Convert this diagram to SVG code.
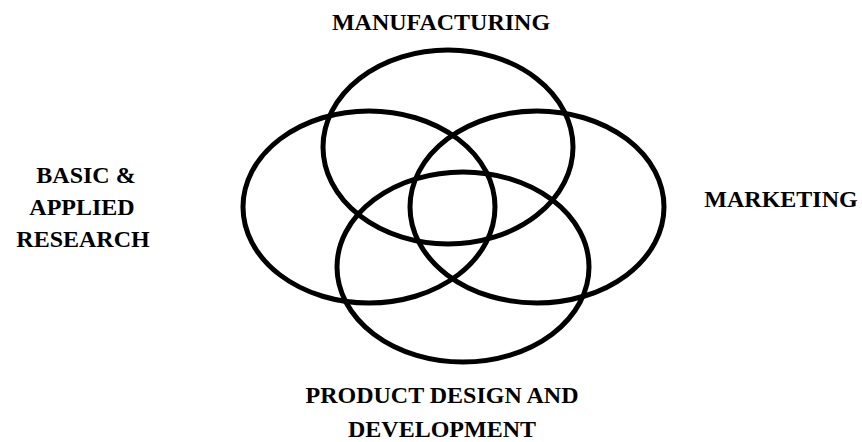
<svg xmlns="http://www.w3.org/2000/svg" width="862" height="442" viewBox="0 0 862 442">
<style>
.ring{fill:none;stroke:#000;stroke-width:5}
.lbl{font-family:"Liberation Serif","Times New Roman",serif;font-weight:bold;font-size:24px;fill:#000;text-anchor:middle}
</style>
<rect width="862" height="442" fill="#fff"/>
<g id="manufacturing">
<ellipse class="ring" cx="448" cy="147" rx="125" ry="97"/>
<text class="lbl" x="441" y="30">MANUFACTURING</text>
</g>
<g id="research">
<ellipse class="ring" cx="369" cy="207" rx="126" ry="96"/>
<text class="lbl" x="86" y="183">BASIC &amp;</text>
<text class="lbl" x="82" y="215">APPLIED</text>
<text class="lbl" x="83" y="247">RESEARCH</text>
</g>
<g id="marketing">
<ellipse class="ring" cx="537" cy="207" rx="127" ry="96"/>
<text class="lbl" x="781" y="207">MARKETING</text>
</g>
<g id="product">
<ellipse class="ring" cx="463" cy="267" rx="126" ry="95"/>
<text class="lbl" x="442" y="403">PRODUCT DESIGN AND</text>
<text class="lbl" x="442" y="437">DEVELOPMENT</text>
</g>
<g id="connectors"></g>
</svg>
